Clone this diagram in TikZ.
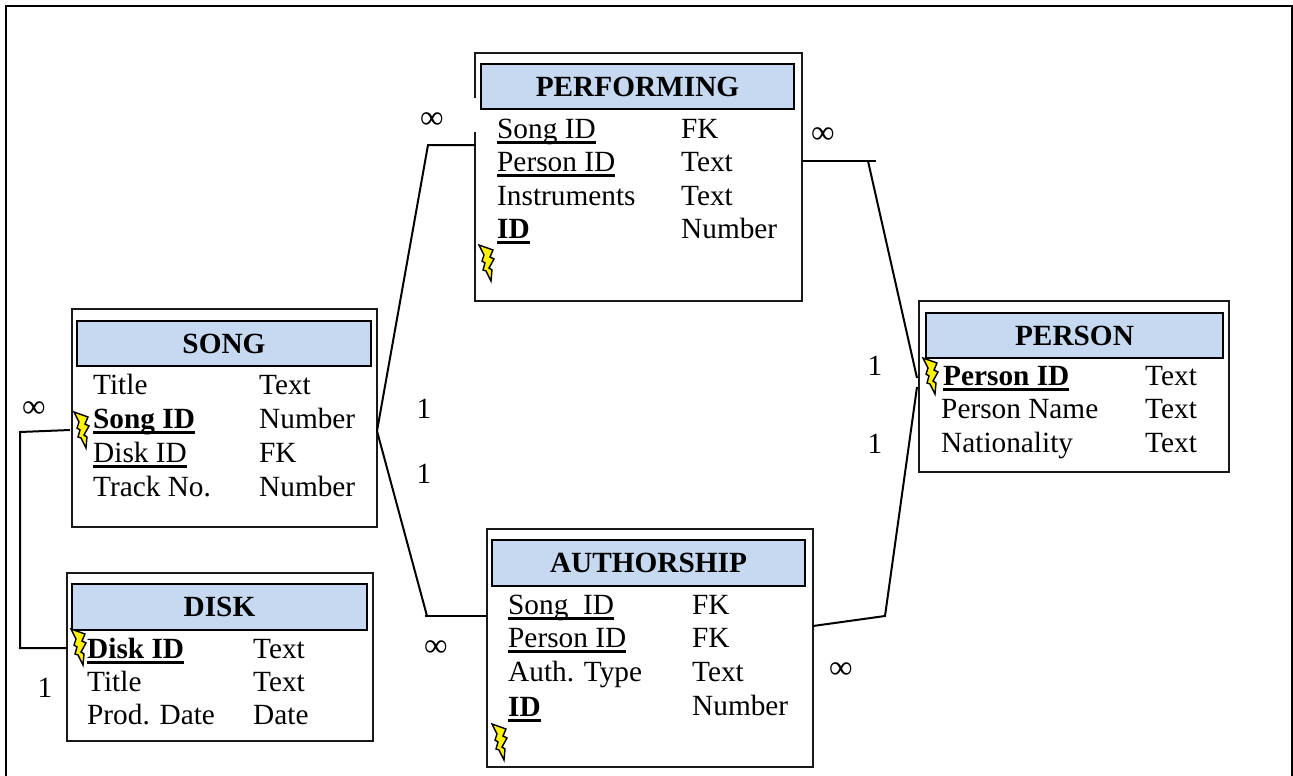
\documentclass[tikz,border=0pt]{standalone}
\usepackage{fontspec}
\setmainfont{Liberation Serif}
\newsavebox{\ulbox}
\newcommand{\ulin}[1]{\sbox{\ulbox}{#1}\rlap{\rule[-6pt]{\wd\ulbox}{2.6pt}}\usebox{\ulbox}}
\tikzset{
  x=1pt,y=-1pt,
  tablebox/.style={draw=black!90,line width=2pt,fill=white,rectangle,anchor=north west,inner sep=0pt,outer sep=0pt},
  headbox/.style={draw=black,line width=2.2pt,fill=headblue,rectangle,anchor=north west,inner sep=0pt,outer sep=0pt},
  headtext/.style={anchor=base,inner sep=0pt,font=\fontsize{29.3}{29.3}\selectfont\bfseries},
  rowtext/.style={anchor=base west,inner sep=0pt,font=\fontsize{29.3}{29.3}\selectfont},
  cardtext/.style={anchor=base,inner sep=0pt,font=\fontsize{29.3}{29.3}\selectfont},
  inftext/.style={anchor=center,inner sep=0pt,font=\fontsize{33}{33}\selectfont},
  link/.style={draw=black,line width=2pt,line join=miter},
  boltpoly/.style={draw=black,line width=1.4pt,fill=yellow,line join=miter},
  gap/.style={draw=white,line width=3pt},
  pics/bolt/.style={code={
    \path[boltpoly] (0,0) -- (14,5) -- (11,12) -- (15,14) -- (10,23) -- (13,25) -- (12,36) -- (7,26) -- (4,25) -- (6,18) -- (3,16) -- (5,10) -- cycle;
  }}
}
\definecolor{headblue}{HTML}{C6D9F1}
\newcommand{\boxnode}[5]{\node[tablebox,minimum width=#4pt,minimum height=#5pt] (#1) at (#2,#3) {};}
\newcommand{\headnode}[6]{%
  \node[headbox,minimum width=#4pt,minimum height=#5pt] (#1) at (#2,#3) {};
  \node[headtext] (#1t) at ([yshift=-9.5pt]#1.center) {#6};}
\begin{document}
\begin{tikzpicture}
\useasboundingbox (0,0) rectangle (1293,776);
\coordinate (fa) at (6,776);
\coordinate (fb) at (6,6);
\coordinate (fc) at (1292,6);
\coordinate (fd) at (1292,776);
\draw[black,line width=2pt] (fa) -- (fb) -- (fc) -- (fd);

% boxes
\boxnode{song}{72}{309}{305}{218}
\boxnode{disk}{67}{573}{306}{168}
\boxnode{perf}{475}{53}{327}{248}
\boxnode{person}{919}{301}{310}{171}
\boxnode{auth}{487}{529}{326}{238}

\headnode{songh}{77}{321}{294}{45}{SONG}
\headnode{diskh}{72}{584}{295}{46}{DISK}
\headnode{perfh}{481}{64}{313}{45}{PERFORMING}
\headnode{personh}{926}{313}{297}{45}{PERSON}
\headnode{authh}{492}{540}{313}{46}{AUTHORSHIP}

% gap in box border
\draw[gap] (475,98) -- (475,132);

% connector ends
\coordinate (sr) at (377,431);
\coordinate (a1) at (428,145);
\coordinate (a2) at (475,145);
\coordinate (b1) at (427,616);
\coordinate (b2) at (487,616);
\coordinate (b0) at (425,616);
\coordinate (c1) at (802,161);
\coordinate (c2) at (876,161);
\coordinate (c3) at (868,161);
\coordinate (c4) at (917,378);
\coordinate (d1) at (917,387);
\coordinate (d2) at (885,616);
\coordinate (d3) at (813,626);
\coordinate (e1) at (70,430);
\coordinate (e2) at (20,432);
\coordinate (e3) at (20,648);
\coordinate (e4) at (67,648);

\draw[link] (sr) -- (a1) -- (a2);
\draw[link] (sr) -- (b1);
\draw[link] (b0) -- (b2);
\draw[link] (c1) -- (c2);
\draw[link] (c3) -- (c4);
\draw[link] (d1) -- (d2) -- (d3);
\draw[link] (e1) -- (e2) -- (e3) -- (e4);

% bolts
\pic at (74,412) {bolt};
\pic at (479,245) {bolt};
\pic at (923,358) {bolt};
\pic at (71,629) {bolt};
\pic at (492,724) {bolt};

% song rows
\node[rowtext] (s1a) at (93,394) {Title};
\node[rowtext] (s1b) at (259,394) {Text};
\node[rowtext] (s2a) at (93,428) {\ulin{\textbf{Song ID}}};
\node[rowtext] (s2b) at (259,428) {Number};
\node[rowtext] (s3a) at (93,462) {\ulin{Disk ID}};
\node[rowtext] (s3b) at (259,462) {FK};
\node[rowtext] (s4a) at (93,496) {Track No.};
\node[rowtext] (s4b) at (259,496) {Number};

% disk rows
\node[rowtext] (d1a) at (87,658) {\ulin{\textbf{Disk ID}}};
\node[rowtext] (d1b) at (253,658) {Text};
\node[rowtext] (d2a) at (87,691) {Title};
\node[rowtext] (d2b) at (253,691) {Text};
\node[rowtext] (d3a) at (87,724) {Prod. Date};
\node[rowtext] (d3b) at (253,724) {Date};

% performing rows
\node[rowtext] (p1a) at (497,138) {\ulin{Song ID}};
\node[rowtext] (p1b) at (681,138) {FK};
\node[rowtext] (p2a) at (497,171) {\ulin{Person ID}};
\node[rowtext] (p2b) at (681,171) {Text};
\node[rowtext] (p3a) at (497,205) {Instruments};
\node[rowtext] (p3b) at (681,205) {Text};
\node[rowtext] (p4a) at (497,238) {\ulin{\textbf{ID}}};
\node[rowtext] (p4b) at (681,238) {Number};

% person rows
\node[rowtext] (q1a) at (943,385) {\ulin{\textbf{Person ID}}};
\node[rowtext] (q1b) at (1145,385) {Text};
\node[rowtext] (q2a) at (941,418) {Person Name};
\node[rowtext] (q2b) at (1145,418) {Text};
\node[rowtext] (q3a) at (941,452) {Nationality};
\node[rowtext] (q3b) at (1145,452) {Text};

% authorship rows
\node[rowtext] (u1a) at (508,614) {\ulin{Song\ \ ID}};
\node[rowtext] (u1b) at (692,614) {FK};
\node[rowtext] (u2a) at (508,647) {\ulin{Person ID}};
\node[rowtext] (u2b) at (692,647) {FK};
\node[rowtext] (u3a) at (508,681) {Auth. Type};
\node[rowtext] (u3b) at (692,681) {Text};
\node[rowtext] (u4a) at (508,716) {\ulin{\textbf{ID}}};
\node[rowtext] (u4b) at (692,715) {Number};

% cardinalities
\node[inftext] (i1) at (432,121) {∞};
\node[inftext] (i2) at (823,136) {∞};
\node[inftext] (i3) at (436,649) {∞};
\node[inftext] (i4) at (841,671) {∞};
\node[inftext] (i5) at (34,410) {∞};
\node[cardtext] (o1) at (875,375) {1};
\node[cardtext] (o2) at (875,453) {1};
\node[cardtext] (o3) at (424,418) {1};
\node[cardtext] (o4) at (424,483) {1};
\node[cardtext] (o5) at (45,697) {1};
\end{tikzpicture}
\end{document}
